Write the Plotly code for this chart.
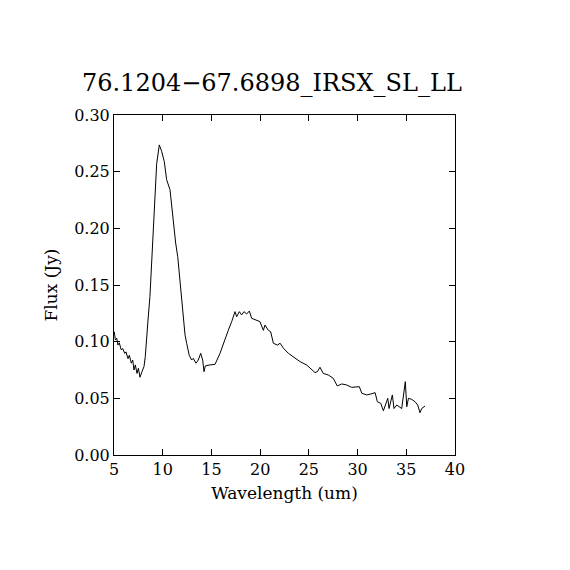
import plotly.graph_objects as go

# spectrum
wavelength = [5.03, 5.14, 5.28, 5.41, 5.54, 5.75, 5.89, 6.1, 6.23, 6.44, 6.57, 6.78, 6.92,
              7.05, 7.19, 7.36, 7.5, 7.67, 7.87, 8.08, 8.21, 8.32, 8.49, 8.69,
              8.93, 9.21, 9.38, 9.65, 9.89, 10.16, 10.4, 10.75, 10.92, 11.19, 11.33, 11.54,
              11.77, 12.01, 12.29, 12.46, 12.72, 12.97, 13.14, 13.42, 13.65, 13.9, 14.1,
              14.24, 14.37, 14.85, 15.37, 15.88, 16.39, 16.73, 17.08, 17.42, 17.59, 17.86,
              18.1, 18.34, 18.61,
              18.89, 19.13, 19.64, 19.98, 20.33, 20.5, 20.84, 21.08, 21.36, 21.77, 22.05,
              22.39, 22.9, 23.4, 24.1, 24.78, 25.3, 25.63, 25.87, 26.14, 26.48, 27.0, 27.5,
              27.92, 28.37, 28.88, 29.4, 29.91, 30.18, 30.43, 30.94, 31.35, 31.8, 32.03,
              32.38, 32.65, 32.92, 33.1, 33.23, 33.4, 33.57, 33.74, 34.02, 34.53, 34.77,
              34.9, 35.05, 35.22, 35.56, 35.9, 36.17, 36.41, 36.58, 36.92]
flux = [0.1088, 0.1015, 0.103, 0.097, 0.099, 0.0927, 0.094, 0.0897, 0.091, 0.085, 0.088,
        0.081, 0.0838, 0.075, 0.0795, 0.072, 0.0765, 0.0686, 0.0735, 0.078, 0.0868, 0.104,
        0.119, 0.140, 0.184, 0.228, 0.257, 0.2736, 0.268, 0.259, 0.243, 0.234, 0.219,
        0.2015, 0.187, 0.175, 0.154, 0.131, 0.106, 0.0986, 0.088, 0.0838, 0.0853, 0.081,
        0.0838, 0.0897, 0.0838, 0.0735, 0.0786, 0.0795, 0.080, 0.0897, 0.103, 0.110,
        0.1177, 0.1265, 0.122, 0.1265,
        0.1236, 0.1265, 0.1244, 0.127, 0.1206, 0.119, 0.1177, 0.110, 0.1147, 0.110, 0.1088,
        0.0986, 0.097, 0.0986, 0.0942, 0.0897, 0.0868, 0.0824, 0.0794, 0.075, 0.0727,
        0.0735, 0.0774, 0.072, 0.0706, 0.0677, 0.0609, 0.0627, 0.0618, 0.0597, 0.0597,
        0.0603, 0.0545, 0.053, 0.0538, 0.055, 0.047, 0.0456, 0.039, 0.047, 0.050, 0.041,
        0.047, 0.053, 0.041, 0.0441, 0.041, 0.0589, 0.0647, 0.0426, 0.050, 0.0491, 0.047,
        0.0441, 0.0373, 0.041, 0.0432]

title = "76.1204\u221267.6898_IRSX_SL_LL"
font = "DejaVu Serif, Liberation Serif, serif"

fig = go.Figure()
fig.add_trace(go.Scatter(x=wavelength, y=flux, mode="lines",
                         line=dict(color="black", width=1), showlegend=False))

axis_style = dict(showline=True, linecolor="black", linewidth=1, mirror="ticks",
                  ticks="inside", ticklen=6, tickcolor="black", showgrid=False,
                  zeroline=False, tickfont=dict(size=16, color="black", family=font))

fig.update_xaxes(range=[5, 40], tickvals=[5, 10, 15, 20, 25, 30, 35, 40],
                 title=dict(text="Wavelength (um)", font=dict(size=17, color="black", family=font),
                            standoff=8),
                 **axis_style)
fig.update_yaxes(range=[0, 0.30], tickvals=[0, 0.05, 0.10, 0.15, 0.20, 0.25, 0.30],
                 tickformat=".2f",
                 title=dict(text="Flux (Jy)", font=dict(size=17, color="black", family=font),
                            standoff=12),
                 **axis_style)

fig.update_layout(
    width=570, height=570,
    margin=dict(l=106, r=123, t=107, b=123),
    paper_bgcolor="white", plot_bgcolor="white",
    title=dict(text=title, x=0.463, xanchor="center", y=0.870, yanchor="middle",
               font=dict(size=24, color="black", family=font)),
)

fig.write_html("out.html")
